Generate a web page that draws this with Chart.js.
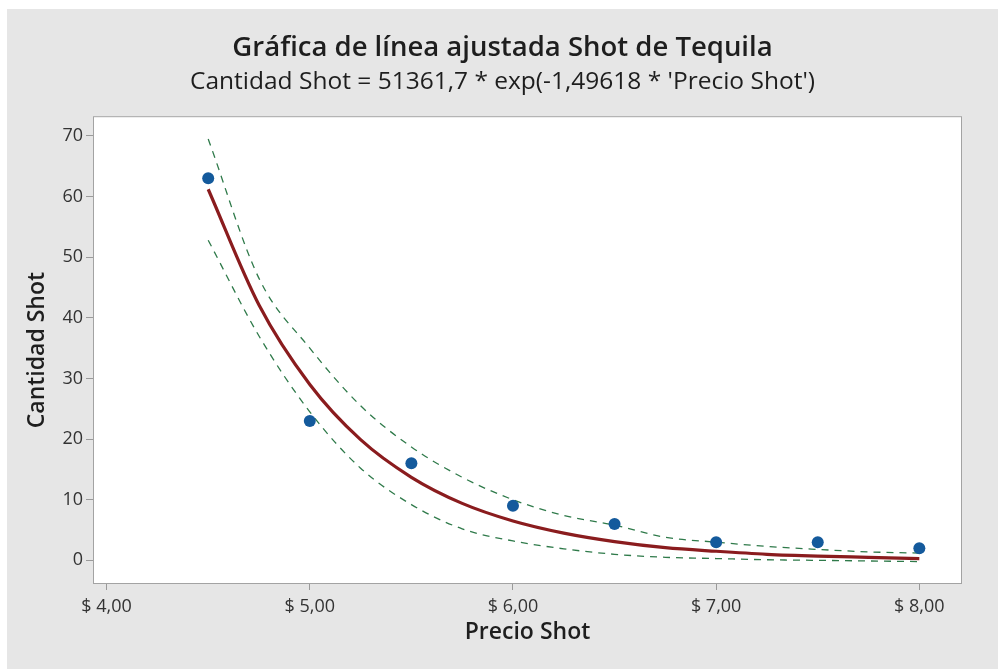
<!DOCTYPE html>
<html>
<head>
<meta charset="utf-8">
<title>Gráfica de línea ajustada Shot de Tequila</title>
<script src="https://cdn.jsdelivr.net/npm/chart.js@4.4.1/dist/chart.umd.min.js"></script>
<style>
    html, body { margin: 0; padding: 0; background: #ffffff; }
    #chart { display: block; }
</style>
</head>
<body>
<canvas id="chart" width="998" height="669"></canvas>
<script>
// Observed data (Precio Shot vs Cantidad Shot)
const priceShot = [4.5, 5.0, 5.5, 6.0, 6.5, 7.0, 7.5, 8.0];
const cantidadShot = [63, 23, 16, 9, 6, 3, 3, 2];

// Fitted curve and confidence band
const curveX = [4.5, 4.75, 5.0, 5.25, 5.5, 5.75, 6.0, 6.25, 6.5, 6.75, 7.0, 7.25, 7.5, 7.75, 8.0];
const fitted = [61.2, 42.1, 29.0, 19.9, 13.7, 9.4, 6.5, 4.5, 3.1, 2.1, 1.5, 1.0, 0.7, 0.5, 0.3];
const upperCI = [69.5, 46.5, 35.0, 25.5, 18.7, 13.7, 10.0, 7.4, 5.8, 3.8, 3.0, 2.3, 1.8, 1.4, 1.2];
const lowerCI = [52.8, 37.0, 24.5, 15.2, 9.2, 5.2, 3.2, 1.9, 1.0, 0.5, 0.3, 0.1, 0.0, -0.1, -0.2];

// Axis ticks
const xTicks = [4, 5, 6, 7, 8];
const yTicks = [0, 10, 20, 30, 40, 50, 60, 70];

const FONT = "'Open Sans', 'Noto Sans', sans-serif";

function toPoints(xs, ys) {
    return xs.map((x, i) => ({ x: x, y: ys[i] }));
}

// Gray panel, white plot area and frame
const framePlugin = {
    id: 'frame',
    beforeDraw(chart) {
        const ctx = chart.ctx;
        const a = chart.chartArea;
        ctx.save();
        ctx.fillStyle = '#ffffff';
        ctx.fillRect(0, 0, chart.width, chart.height);
        ctx.fillStyle = '#e6e6e6';
        ctx.fillRect(7, 9, chart.width - 7, chart.height - 9);
        ctx.fillStyle = '#ffffff';
        ctx.fillRect(a.left, a.top, a.right - a.left, a.bottom - a.top);
        ctx.restore();
    },
    afterDraw(chart) {
        const ctx = chart.ctx;
        const a = chart.chartArea;
        ctx.save();
        ctx.strokeStyle = '#a3a3a3';
        ctx.lineWidth = 1;
        ctx.strokeRect(a.left + 0.5, a.top + 0.5, a.right - a.left - 1, a.bottom - a.top - 1);
        ctx.restore();
    }
};

const greenDash = {
    borderColor: '#2f7a4a',
    borderWidth: 1.3,
    borderDash: [7, 6],
    pointRadius: 0,
    showLine: true,
    fill: false,
    cubicInterpolationMode: 'monotone'
};

new Chart(document.getElementById('chart'), {
    type: 'scatter',
    data: {
        datasets: [
            {
                label: 'Cantidad Shot',
                data: toPoints(priceShot, cantidadShot),
                backgroundColor: '#145a9c',
                borderColor: '#145a9c',
                pointRadius: 6,
                pointBorderWidth: 0,
                showLine: false
            },
            {
                label: 'Ajuste',
                data: toPoints(curveX, fitted),
                borderColor: '#8a1c1e',
                borderWidth: 3.2,
                pointRadius: 0,
                showLine: true,
                fill: false,
                cubicInterpolationMode: 'monotone'
            },
            Object.assign({ label: 'IC superior', data: toPoints(curveX, upperCI) }, greenDash),
            Object.assign({ label: 'IC inferior', data: toPoints(curveX, lowerCI) }, greenDash)
        ]
    },
    options: {
        responsive: false,
        animation: false,
        layout: {
            padding: { left: 7, top: 9, right: 0, bottom: 0 }
        },
        plugins: {
            legend: { display: false },
            tooltip: { enabled: false },
            title: {
                display: true,
                text: 'Gráfica de línea ajustada Shot de Tequila',
                color: '#1e1e1e',
                font: { family: FONT, size: 27.5, weight: '600', lineHeight: 1.2 },
                padding: { top: 22.5, bottom: 0 }
            },
            subtitle: {
                display: true,
                text: "Cantidad Shot = 51361,7 * exp(-1,49618 * 'Precio Shot')",
                color: '#1e1e1e',
                font: { family: FONT, size: 24.5, weight: 'normal', lineHeight: 1.2 },
                padding: { top: 3, bottom: 19.3 }
            }
        },
        scales: {
            x: {
                type: 'linear',
                min: 3.933,
                max: 8.21,
                afterFit(scale) { scale.height = 85; },
                afterBuildTicks(scale) { scale.ticks = xTicks.map(v => ({ value: v })); },
                grid: { drawOnChartArea: false, drawTicks: true, tickLength: 6, color: '#9a9a9a' },
                border: { display: false },
                ticks: {
                    color: '#333333',
                    font: { family: FONT, size: 18 },
                    padding: 6,
                    maxRotation: 0,
                    callback: v => '$ ' + v.toFixed(2).replace('.', ',')
                },
                title: {
                    display: true,
                    text: 'Precio Shot',
                    color: '#1e1e1e',
                    font: { family: FONT, size: 23, weight: '600', lineHeight: 1.2 },
                    padding: { top: 4, bottom: 23.2 }
                }
            },
            y: {
                min: -3.9,
                max: 73.25,
                afterFit(scale) { scale.width = 86; },
                afterBuildTicks(scale) { scale.ticks = yTicks.map(v => ({ value: v })); },
                grid: { drawOnChartArea: false, drawTicks: true, tickLength: 7, color: '#9a9a9a' },
                border: { display: false },
                ticks: {
                    color: '#333333',
                    font: { family: FONT, size: 18 },
                    padding: 3
                },
                title: {
                    display: true,
                    text: 'Cantidad Shot',
                    color: '#1e1e1e',
                    font: { family: FONT, size: 23, weight: '600', lineHeight: 1.2 },
                    padding: { top: 16.2, bottom: 4 }
                }
            },
            // empty right margin so the titles centre on the whole panel
            yRight: {
                position: 'right',
                min: 0,
                max: 1,
                afterFit(scale) { scale.width = 36; },
                ticks: { display: false },
                grid: { display: false },
                border: { display: false }
            }
        }
    },
    plugins: [framePlugin]
});
</script>
</body>
</html>
